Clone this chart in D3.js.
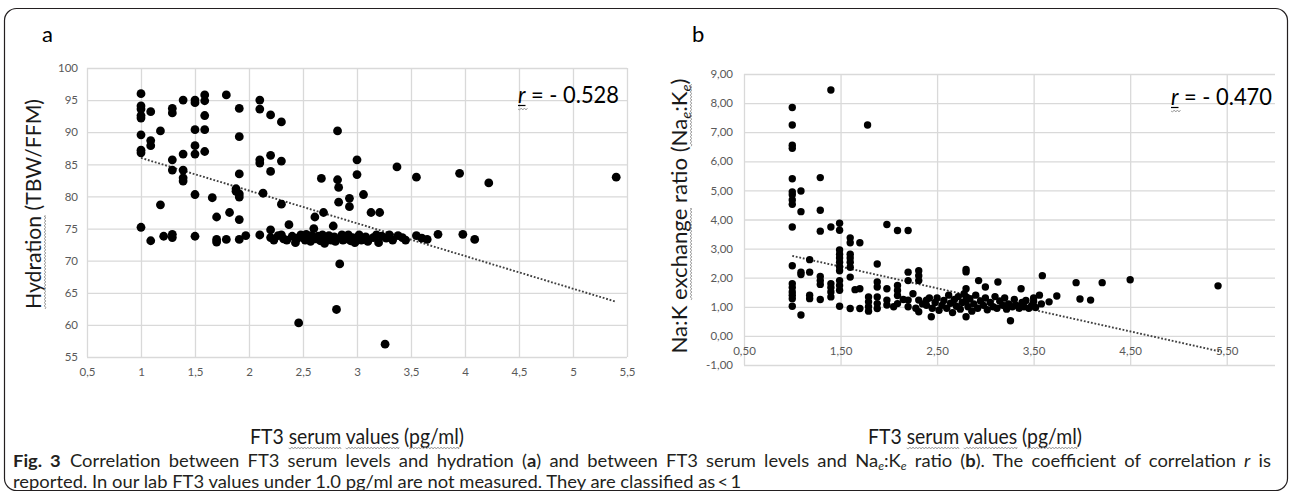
<!DOCTYPE html>
<html>
<head>
<meta charset="utf-8">
<script src="https://cdn.jsdelivr.net/npm/d3@7"></script>
<style>
  body { margin: 0; background: #fff; }
</style>
</head>
<body>
<svg id="fig"></svg>
<script>
// ---- Data: panel a, FT3 vs hydration (TBW/FFM) ----
const hydFt3 = [
  1.00, 1.00, 1.00, 1.00, 1.00, 1.00, 1.00, 1.00, 1.00, 1.09, 1.09, 1.09, 1.09, 1.18, 1.18, 1.21,
  1.29, 1.29, 1.29, 1.29, 1.29, 1.29, 1.39, 1.39, 1.39, 1.39, 1.39, 1.50, 1.50, 1.50, 1.50, 1.50,
  1.50, 1.50, 1.59, 1.59, 1.59, 1.59, 1.59, 1.66, 1.70, 1.70, 1.70, 1.79, 1.79, 1.82, 1.88, 1.88,
  1.91, 1.91, 1.91, 1.91, 1.91, 1.91, 1.91, 1.97, 2.10, 2.10, 2.10, 2.10, 2.10, 2.13, 2.20, 2.20,
  2.20, 2.20, 2.20, 2.23, 2.27, 2.30, 2.30, 2.30, 2.30, 2.32, 2.35, 2.37, 2.40, 2.43, 2.45, 2.46,
  2.48, 2.50, 2.52, 2.53, 2.55, 2.57, 2.58, 2.60, 2.61, 2.62, 2.64, 2.66, 2.67, 2.68, 2.69, 2.70,
  2.72, 2.74, 2.76, 2.78, 2.79, 2.80, 2.81, 2.82, 2.82, 2.83, 2.83, 2.84, 2.85, 2.86, 2.87, 2.88,
  2.90, 2.92, 2.93, 2.93, 2.94, 2.96, 2.98, 3.00, 3.00, 3.00, 3.02, 3.04, 3.06, 3.08, 3.10, 3.13,
  3.15, 3.18, 3.20, 3.21, 3.23, 3.26, 3.27, 3.30, 3.33, 3.37, 3.38, 3.42, 3.45, 3.55, 3.55, 3.60,
  3.65, 3.75, 3.95, 3.98, 4.09, 4.22, 5.40
];
const hydValue = [
  96.0, 94.1, 93.6, 92.6, 92.2, 89.6, 87.2, 86.8, 75.2, 93.2, 88.7, 87.9, 73.1, 90.2, 78.7, 73.8,
  93.7, 93.0, 85.7, 84.1, 74.1, 73.6, 95.0, 86.6, 84.1, 82.9, 82.4, 95.0, 94.6, 90.4, 87.9, 86.6,
  80.3, 73.8, 95.8, 94.9, 92.6, 90.4, 87.0, 79.8, 76.8, 73.3, 72.9, 95.8, 73.3, 77.5, 81.2, 80.8,
  93.7, 89.3, 83.5, 80.4, 79.9, 76.4, 73.3, 73.9, 95.0, 93.6, 85.7, 85.2, 74.0, 80.5, 92.7, 86.4,
  83.9, 74.8, 73.6, 73.2, 73.9, 91.6, 85.5, 78.8, 74.0, 73.4, 73.2, 75.6, 73.8, 72.8, 73.5, 60.3,
  74.0, 73.6, 73.2, 74.1, 73.5, 73.0, 73.9, 75.0, 76.8, 73.4, 73.8, 73.1, 82.8, 74.0, 77.5, 72.7,
  73.6, 73.9, 73.2, 75.4, 73.7, 73.0, 62.4, 90.2, 82.6, 81.4, 79.1, 69.5, 73.5, 74.0, 73.2, 73.8,
  73.4, 74.0, 79.7, 78.4, 73.1, 73.6, 72.8, 85.7, 83.4, 73.5, 74.0, 73.2, 80.3, 73.7, 73.0, 77.5,
  73.6, 74.0, 72.8, 77.5, 73.8, 57.0, 73.5, 74.0, 73.2, 84.6, 73.9, 73.6, 73.2, 83.0, 73.9, 73.5,
  73.3, 74.1, 83.6, 74.1, 73.3, 82.1, 83.0
];
const hydTrendFt3 = [1.0, 5.4];
const hydTrendValue = [86.0, 63.6];
const hydXTicks = [0.5, 1, 1.5, 2, 2.5, 3, 3.5, 4, 4.5, 5, 5.5];
const hydYTicks = [55, 60, 65, 70, 75, 80, 85, 90, 95, 100];

// ---- Data: panel b, FT3 vs Na:K exchange ratio ----
const nakFt3 = [
  1.00, 1.00, 1.00, 1.00, 1.00, 1.00, 1.00, 1.00, 1.00, 1.00, 1.00, 1.00, 1.00, 1.00, 1.00, 1.00,
  1.00, 1.09, 1.09, 1.09, 1.09, 1.09, 1.18, 1.18, 1.18, 1.18, 1.29, 1.29, 1.29, 1.29, 1.29, 1.29,
  1.29, 1.40, 1.40, 1.40, 1.40, 1.40, 1.40, 1.49, 1.49, 1.49, 1.49, 1.49, 1.49, 1.49, 1.49, 1.49,
  1.49, 1.49, 1.49, 1.60, 1.60, 1.60, 1.60, 1.60, 1.60, 1.60, 1.60, 1.65, 1.70, 1.70, 1.70, 1.78,
  1.79, 1.79, 1.79, 1.79, 1.88, 1.88, 1.88, 1.88, 1.88, 1.88, 1.98, 1.98, 1.98, 1.98, 2.05, 2.09,
  2.09, 2.09, 2.09, 2.09, 2.15, 2.20, 2.20, 2.20, 2.20, 2.20, 2.25, 2.28, 2.31, 2.31, 2.31, 2.31,
  2.31, 2.35, 2.39, 2.39, 2.42, 2.44, 2.45, 2.48, 2.50, 2.52, 2.55, 2.57, 2.60, 2.62, 2.64, 2.66,
  2.68, 2.70, 2.72, 2.74, 2.76, 2.78, 2.80, 2.80, 2.80, 2.80, 2.80, 2.80, 2.82, 2.84, 2.86, 2.88,
  2.90, 2.92, 2.93, 2.95, 2.98, 3.00, 3.00, 3.02, 3.05, 3.08, 3.10, 3.12, 3.13, 3.15, 3.18, 3.20,
  3.22, 3.24, 3.26, 3.28, 3.30, 3.32, 3.35, 3.37, 3.38, 3.40, 3.42, 3.45, 3.48, 3.50, 3.50, 3.52,
  3.56, 3.58, 3.59, 3.66, 3.74, 3.94, 3.98, 4.09, 4.21, 4.50, 5.41
];
const nakValue = [
  7.85, 7.25, 6.55, 6.45, 5.40, 4.95, 4.85, 4.67, 4.52, 3.74, 2.41, 1.79, 1.66, 1.51, 1.40, 1.28,
  1.02, 4.98, 4.27, 2.19, 2.11, 0.72, 2.62, 2.19, 1.40, 1.28, 5.44, 4.32, 3.60, 2.04, 1.90, 1.77,
  1.25, 8.45, 3.74, 1.79, 1.66, 1.51, 1.34, 3.87, 3.63, 2.95, 2.81, 2.68, 2.53, 2.38, 2.24, 1.90,
  1.73, 1.57, 1.02, 3.37, 3.20, 2.81, 2.68, 2.53, 2.36, 2.02, 0.94, 1.59, 3.20, 1.62, 0.94, 7.25,
  1.34, 1.17, 1.00, 0.85, 2.47, 1.85, 1.68, 1.34, 1.11, 0.94, 3.83, 1.62, 1.23, 1.06, 1.00, 3.62,
  1.73, 1.56, 1.39, 1.11, 1.25, 3.62, 2.19, 1.90, 1.23, 1.00, 1.45, 0.95, 2.24, 2.07, 1.90, 1.23,
  0.83, 1.10, 1.23, 1.05, 1.30, 0.66, 0.95, 1.15, 1.30, 0.88, 1.05, 1.22, 0.95, 1.40, 1.12, 0.80,
  1.25, 1.02, 1.35, 0.92, 1.15, 1.45, 2.28, 2.20, 1.62, 1.34, 1.17, 0.66, 1.00, 1.28, 0.85, 1.10,
  1.40, 0.95, 1.90, 1.20, 1.05, 1.68, 1.30, 0.90, 1.15, 1.00, 1.35, 0.95, 1.85, 1.20, 1.05, 1.30,
  0.92, 1.10, 0.52, 1.00, 1.25, 1.05, 0.95, 1.62, 1.15, 1.00, 1.22, 0.95, 1.05, 1.30, 1.18, 0.98,
  1.40, 1.10, 2.07, 1.17, 1.37, 1.83, 1.27, 1.23, 1.83, 1.93, 1.72
];
const nakTrendFt3 = [1.0, 5.45];
const nakTrendValue = [2.75, -0.55];
const nakXTicks = [0.5, 1.5, 2.5, 3.5, 4.5, 5.5];
const nakYTicks = [-1, 0, 1, 2, 3, 4, 5, 6, 7, 8, 9];

const comma = (s) => s.replace(".", ",");

/**
 * Canvas.
 */
const width = 1290;
const height = 492;
const GRID = "#d9d9d9";
const LABEL = "#595959";
const FONT = "Lato, 'Open Sans', sans-serif";

const svg = d3.select("#fig").attr("width", width).attr("height", height);

// Rounded figure frame.
svg
  .append("rect")
  .attr("x", 4.5)
  .attr("y", 8.5)
  .attr("width", 1283)
  .attr("height", 482)
  .attr("rx", 12)
  .attr("fill", "none")
  .attr("stroke", "#231f20")
  .attr("stroke-width", 1.2);

// Draws a wavy "spell-check" underline between two x positions.
function wavy(parent, x0, x1, y) {
  let d = `M${x0},${y}`;
  let k = 0;
  for (let xx = x0; xx < x1; xx += 1.6, k++) {
    d += `L${Math.min(xx + 1.6, x1)},${y + (k % 2 ? -1 : 1)}`;
  }
  parent
    .append("path")
    .attr("d", d)
    .attr("fill", "none")
    .attr("stroke", "#8c8c8c")
    .attr("stroke-width", 0.8);
}

// Underlines a substring of a text node with a wavy line.
function wavyWord(parent, textNode, word, baseline) {
  const full = textNode.textContent;
  const i = full.indexOf(word);
  if (i < 0) return;
  const a = textNode.getExtentOfChar(i);
  const b = textNode.getExtentOfChar(i + word.length - 1);
  wavy(parent, a.x, b.x + b.width, baseline + 4);
}

/**
 * One scatter panel.
 */
function scatterPanel(cfg) {
  const x = d3.scaleLinear().domain(cfg.xDomain).range(cfg.xRange);
  const y = d3.scaleLinear().domain(cfg.yDomain).range(cfg.yRange);
  const g = svg.append("g");
  const plotH = cfg.yRange[0] - cfg.yRange[1];
  const plotW = cfg.xRange[1] - cfg.xRange[0];

  // Vertical grid lines.
  g.append("g")
    .attr("transform", `translate(0, ${cfg.yRange[0]})`)
    .call(d3.axisBottom(x).tickValues(cfg.xTicks).tickSize(-plotH).tickFormat(""))
    .call((s) => s.select(".domain").remove())
    .selectAll("line")
    .attr("stroke", GRID)
    .attr("stroke-width", 1.3);

  // Horizontal grid lines.
  g.append("g")
    .attr("transform", `translate(${cfg.xRange[0]}, 0)`)
    .call(d3.axisLeft(y).tickValues(cfg.yTicks).tickSize(-plotW).tickFormat(""))
    .call((s) => s.select(".domain").remove())
    .selectAll("line")
    .attr("stroke", GRID)
    .attr("stroke-width", 1.3);

  // x tick labels (placed where the horizontal axis crosses).
  g.append("g")
    .attr("transform", `translate(0, ${y(cfg.xAxisAt)})`)
    .call(d3.axisBottom(x).tickValues(cfg.xTicks).tickSize(0).tickPadding(11).tickFormat(cfg.xFormat))
    .call((s) => s.select(".domain").remove())
    .selectAll("text")
    .attr("fill", LABEL)
    .attr("font-family", FONT)
    .attr("font-size", 11.5);

  // y tick labels.
  g.append("g")
    .attr("transform", `translate(${cfg.xRange[0]}, 0)`)
    .call(d3.axisLeft(y).tickValues(cfg.yTicks).tickSize(0).tickPadding(cfg.yPad).tickFormat(cfg.yFormat))
    .call((s) => s.select(".domain").remove())
    .selectAll("text")
    .attr("fill", LABEL)
    .attr("font-family", FONT)
    .attr("font-size", 11.5);

  // Linear trend line (dotted).
  g.append("path")
    .datum(d3.zip(cfg.trendX, cfg.trendY))
    .attr("fill", "none")
    .attr("stroke", "#404040")
    .attr("stroke-width", 1.9)
    .attr("stroke-dasharray", "1.8 1.8")
    .attr("d", d3.line().x((d) => x(d[0])).y((d) => y(d[1])));

  // Data points.
  g.selectAll("circle")
    .data(d3.zip(cfg.xs, cfg.ys))
    .join("circle")
    .attr("cx", (d) => x(d[0]))
    .attr("cy", (d) => y(d[1]))
    .attr("r", cfg.r)
    .attr("fill", "#000");

  // Panel letter.
  svg.append("text")
    .attr("x", cfg.letterX)
    .attr("y", 42)
    .attr("font-family", FONT)
    .attr("font-size", 22)
    .attr("fill", "#000")
    .text(cfg.letter);

  // Correlation coefficient.
  const rt = svg.append("text")
    .attr("x", cfg.rX)
    .attr("y", cfg.rY)
    .attr("font-family", FONT)
    .attr("font-size", 23)
    .attr("fill", "#000")
    .attr("textLength", 101)
    .attr("lengthAdjust", "spacingAndGlyphs");
  rt.append("tspan").attr("font-style", "italic").text("r");
  rt.append("tspan").text(` = - ${cfg.rValue}`);
  const rExt = rt.node().getExtentOfChar(0);
  svg.append("line")
    .attr("x1", rExt.x).attr("x2", rExt.x + rExt.width)
    .attr("y1", cfg.rY + 2.5).attr("y2", cfg.rY + 2.5)
    .attr("stroke", "#000").attr("stroke-width", 1.2);
  wavy(svg, rExt.x, rExt.x + rExt.width + 2, cfg.rY + 6);

  // x axis title.
  const xt = svg.append("text")
    .attr("x", cfg.xTitleX)
    .attr("y", cfg.xTitleY)
    .attr("text-anchor", "middle")
    .attr("font-family", FONT)
    .attr("font-size", 21)
    .attr("fill", "#1a1a1a")
    .attr("textLength", 214)
    .attr("lengthAdjust", "spacingAndGlyphs")
    .text("FT3 serum values (pg/ml)");
  ["serum", "values", "pg/ml"].forEach((w) => wavyWord(svg, xt.node(), w, cfg.xTitleY));

  // y axis title (rotated).
  const yg = svg.append("g")
    .attr("transform", `translate(${cfg.yTitleX}, ${cfg.yTitleY}) rotate(-90)`);
  const yt = yg.append("text")
    .attr("text-anchor", "middle")
    .attr("font-family", FONT)
    .attr("font-size", cfg.yTitleSize)
    .attr("fill", "#1a1a1a")
    .attr("textLength", cfg.yTitleLen)
    .attr("lengthAdjust", "spacingAndGlyphs");
  cfg.yTitle(yt);
  cfg.yTitleWavy.forEach((w) => wavyWord(yg, yt.node(), w, 0));
}

/**
 * Panel a.
 */
scatterPanel({
  xs: hydFt3,
  ys: hydValue,
  trendX: hydTrendFt3,
  trendY: hydTrendValue,
  xDomain: [0.5, 5.5],
  xRange: [87, 627],
  yDomain: [55, 100],
  yRange: [357, 68],
  xTicks: hydXTicks,
  yTicks: hydYTicks,
  xAxisAt: 55,
  xFormat: (d) => comma(String(d)),
  yFormat: (d) => String(d),
  yPad: 9,
  r: 4.4,
  letter: "a",
  letterX: 42,
  rX: 518,
  rY: 103,
  rValue: "0.528",
  xTitleX: 357,
  xTitleY: 444,
  yTitleX: 41,
  yTitleY: 204,
  yTitleSize: 22,
  yTitleLen: 210,
  yTitle: (t) => t.text("Hydration (TBW/FFM)"),
  yTitleWavy: ["Hydration"],
});

/**
 * Panel b.
 */
scatterPanel({
  xs: nakFt3,
  ys: nakValue,
  trendX: nakTrendFt3,
  trendY: nakTrendValue,
  xDomain: [0.5, 6.0],
  xRange: [744, 1275],
  yDomain: [-1, 9],
  yRange: [365, 74],
  xTicks: nakXTicks,
  yTicks: nakYTicks,
  xAxisAt: 0,
  xFormat: (d) => comma(d.toFixed(2)),
  yFormat: (d) => comma(d.toFixed(2)),
  yPad: 11,
  r: 3.7,
  letter: "b",
  letterX: 692,
  rX: 1171,
  rY: 105,
  rValue: "0.470",
  xTitleX: 975,
  xTitleY: 444,
  yTitleX: 687,
  yTitleY: 216,
  yTitleSize: 21,
  yTitleLen: 275,
  yTitle: (t) => {
    t.append("tspan").text("Na:K exchange ratio (Na");
    t.append("tspan").attr("dy", 4).attr("font-size", 14).attr("font-style", "italic").text("e");
    t.append("tspan").attr("dy", -4).text(":K");
    t.append("tspan").attr("dy", 4).attr("font-size", 14).attr("font-style", "italic").text("e");
    t.append("tspan").attr("dy", -4).text(")");
  },
  yTitleWavy: ["exchange", "Nae:Ke"],
});

/**
 * Caption: justified, so line 1 gets a little extra word spacing to fill the
 * figure width while the last line keeps its natural length.
 */
const CAP = "Lato, 'Noto Sans', sans-serif";
const capG = svg.append("g");
const cap1 = capG.append("text")
  .attr("x", 0)
  .attr("y", 467)
  .attr("font-family", CAP)
  .attr("font-size", 16.5)
  .attr("fill", "#231f20");
cap1.append("tspan").attr("font-weight", "bold").text("Fig. 3");
cap1.append("tspan").text("\u2002Correlation between FT3 serum levels and hydration (");
cap1.append("tspan").attr("font-weight", "bold").text("a");
cap1.append("tspan").text(") and between FT3 serum levels and Na");
cap1.append("tspan").attr("dy", 3).attr("font-size", 11).attr("font-style", "italic").text("e");
cap1.append("tspan").attr("dy", -3).text(":K");
cap1.append("tspan").attr("dy", 3).attr("font-size", 11).attr("font-style", "italic").text("e");
cap1.append("tspan").attr("dy", -3).text(" ratio (");
cap1.append("tspan").attr("font-weight", "bold").text("b");
cap1.append("tspan").text("). The coefficient of correlation ");
cap1.append("tspan").attr("font-style", "italic").text("r");
cap1.append("tspan").text(" is");

const cap2 = capG.append("text")
  .attr("x", 0)
  .attr("y", 488)
  .attr("font-family", CAP)
  .attr("font-size", 16.5)
  .attr("fill", "#231f20")
  .text("reported. In our lab FT3 values under 1.0 pg/ml are not measured. They are classified as\u2009<\u20091");

const fit1 = 1258 / cap1.node().getComputedTextLength();
const fit2 = 679 / cap2.node().getComputedTextLength();
const sx = (fit1 + fit2) / 2;
capG.attr("transform", `translate(13, 0) scale(${sx}, 1)`);
const spaces = (cap1.node().textContent.match(/ /g) || []).length;
cap1.attr("word-spacing", (1258 / sx - cap1.node().getComputedTextLength()) / spaces);
</script>
</body>
</html>
